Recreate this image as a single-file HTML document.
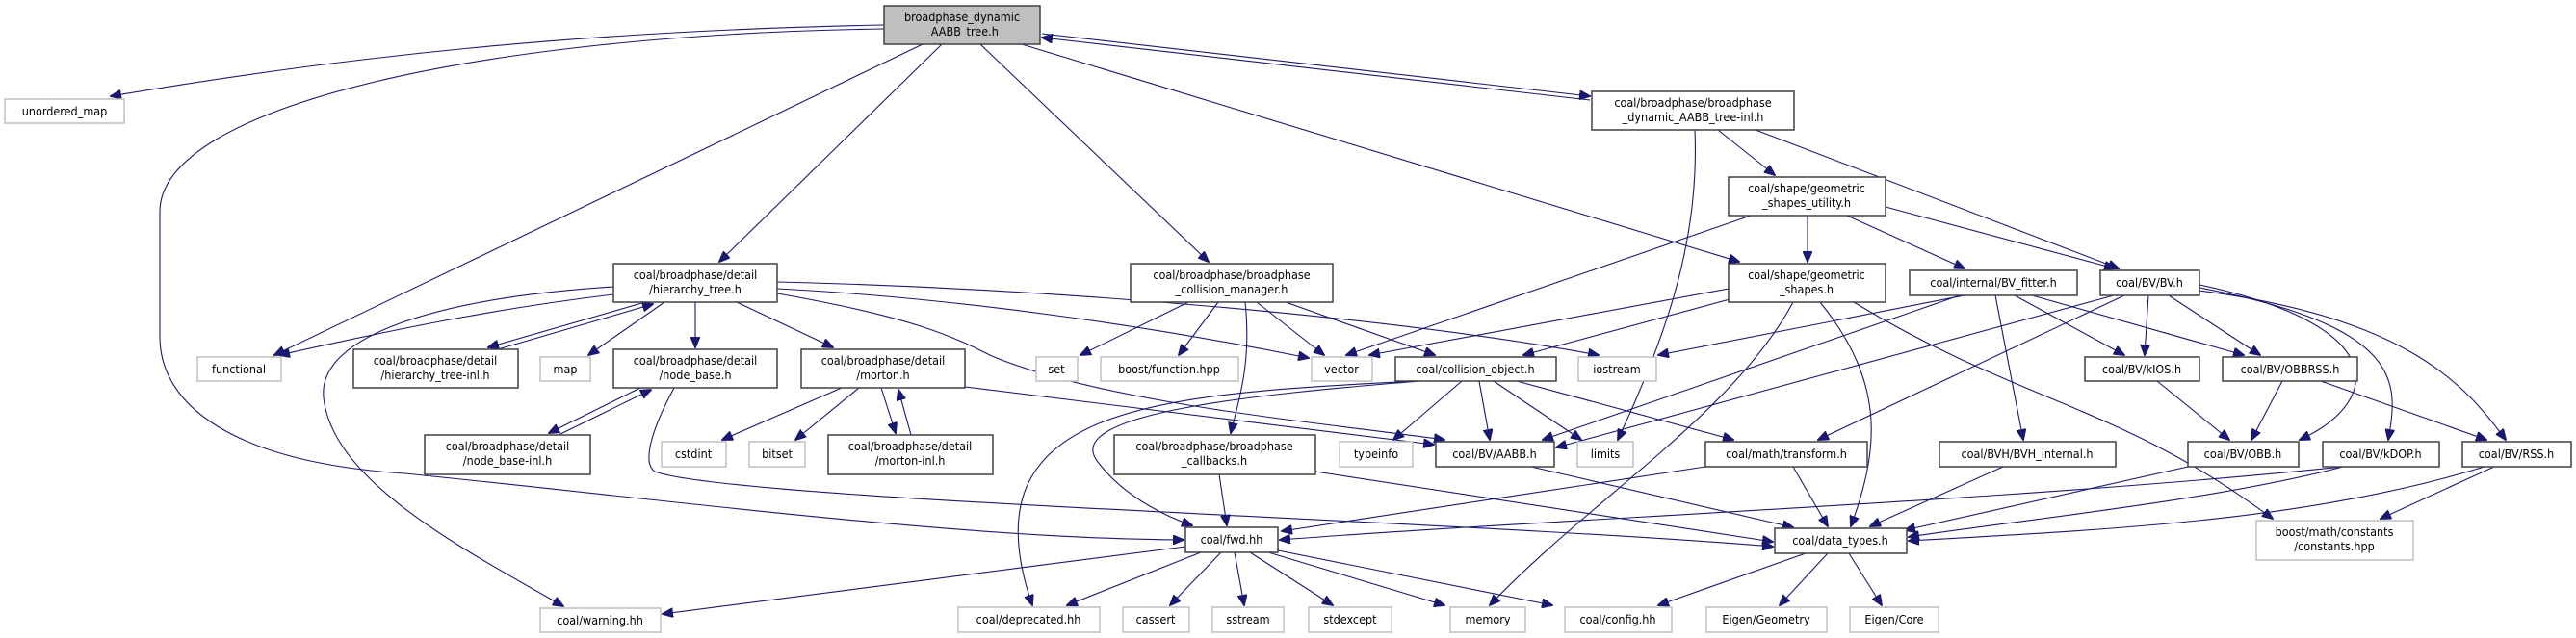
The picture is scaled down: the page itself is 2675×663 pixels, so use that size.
<!DOCTYPE html>
<html><head><meta charset="utf-8"><style>
html,body{margin:0;padding:0;background:#fff;}
svg{display:block;}
text{font-family:"DejaVu Sans Condensed","DejaVu Sans","Liberation Sans",sans-serif;font-size:12.5px;fill:#000;text-anchor:middle;}
.e{fill:none;stroke:#191970;stroke-width:1.1;marker-end:url(#a);}
.p{fill:#fff;stroke:#404040;stroke-width:1.5;}
.s{fill:#fff;stroke:#bfbfbf;stroke-width:1.5;}
.m{fill:#bfbfbf;stroke:#404040;stroke-width:1.5;}
</style></head><body>
<svg width="2675" height="663" viewBox="0 0 2675 663" xmlns="http://www.w3.org/2000/svg">
<defs><marker id="a" markerUnits="userSpaceOnUse" markerWidth="12" markerHeight="10" refX="11" refY="5" orient="auto"><path d="M0,0 L12,5 L0,10 z" fill="#191970" stroke="#191970"/></marker></defs>

<path class="e" d="M918,26 C600,32 350,60 115,100"/>
<path class="e" d="M918,30 C500,36 166,110 166,220 L166,350 C166,420 240,480 420,492 C700,520 1000,560 1229,561"/>
<path class="e" d="M958,46 L285,369"/>
<path class="e" d="M978,46 L747,272"/>
<path class="e" d="M1018,46 L1255,272"/>
<path class="e" d="M1061,46 L1806,272"/>
<path class="e" d="M1082,35 L1651,100"/>
<path class="e" d="M1651,104 L1082,39"/>
<path class="e" d="M1760,135 C1765,250 1730,350 1680,457"/>
<path class="e" d="M1784,135 L1843,182"/>
<path class="e" d="M1823,135 L2200,279"/>

<path class="e" d="M1818,224 L1398,369"/>
<path class="e" d="M1877,224 L1877,272"/>
<path class="e" d="M1918,224 L2040,279"/>
<path class="e" d="M1958,215 L2196,279"/>

<path class="e" d="M1795,300 L1422,369"/>
<path class="e" d="M1800,310 L1582,369"/>
<path class="e" d="M1862,314 C1800,430 1650,520 1547,629"/>
<path class="e" d="M1890,314 C1960,400 1950,470 1922,547"/>
<path class="e" d="M1925,314 C2100,420 2200,420 2360,539"/>

<path class="e" d="M2040,307 L1722,369"/>
<path class="e" d="M2035,307 L1602,457"/>
<path class="e" d="M2072,307 L2101,457"/>
<path class="e" d="M2092,307 L2206,369"/>
<path class="e" d="M2110,307 L2330,369"/>

<path class="e" d="M2195,307 L1616,465"/>
<path class="e" d="M2206,307 L1888,457"/>
<path class="e" d="M2231,307 L2227,369"/>
<path class="e" d="M2252,307 L2347,369"/>
<path class="e" d="M2284,296 C2490,340 2470,420 2388,457"/>
<path class="e" d="M2284,299 C2500,340 2490,400 2480,457"/>
<path class="e" d="M2284,302 C2500,330 2560,400 2602,457"/>

<path class="e" d="M2240,396 L2315,457"/>
<path class="e" d="M2370,396 L2338,457"/>
<path class="e" d="M2410,396 L2582,457"/>
<path class="e" d="M2272,485 L1978,551"/>
<path class="e" d="M2433,485 C2300,520 2100,540 1982,558"/>
<path class="e" d="M2433,485 C2100,520 1600,540 1329,561"/>
<path class="e" d="M2580,485 C2400,540 2200,550 1982,562"/>
<path class="e" d="M2590,485 L2472,539"/>
<path class="e" d="M1862,485 L1898,547"/>
<path class="e" d="M2080,485 L1942,547"/>
<path class="e" d="M1590,485 L1862,548"/>
<path class="e" d="M1771,485 L1331,552"/>

<path class="e" d="M1475,396 C1300,410 1100,430 1140,480 C1170,520 1220,540 1238,546"/>
<path class="e" d="M1470,396 C1200,410 1000,420 1072,629"/>
<path class="e" d="M1518,396 L1447,457"/>
<path class="e" d="M1536,396 L1547,457"/>
<path class="e" d="M1551,396 L1642,457"/>
<path class="e" d="M1575,396 L1800,457"/>

<path class="e" d="M1266,493 L1274,546"/>
<path class="e" d="M1366,490 L1841,563"/>

<path class="e" d="M1234,314 L1122,369"/>
<path class="e" d="M1265,314 L1224,369"/>
<path class="e" d="M1293,314 C1300,380 1285,420 1278,450"/>
<path class="e" d="M1305,314 L1375,369"/>
<path class="e" d="M1335,314 L1490,369"/>

<path class="e" d="M1231,568 L688,638"/>
<path class="e" d="M1247,574 L1108,629"/>
<path class="e" d="M1268,574 L1215,629"/>
<path class="e" d="M1282,574 L1292,629"/>
<path class="e" d="M1298,574 L1384,629"/>
<path class="e" d="M1317,574 L1500,629"/>
<path class="e" d="M1327,572 L1612,629"/>
<path class="e" d="M1875,575 L1722,629"/>
<path class="e" d="M1898,575 L1848,629"/>
<path class="e" d="M1920,575 L1954,629"/>

<path class="e" d="M637,306 C520,320 420,340 290,369"/>
<path class="e" d="M637,298 C450,310 330,350 336,413 C345,500 480,570 585,630"/>
<path class="e" d="M670,314 L507,361"/>
<path class="e" d="M517,363 L678,316"/>
<path class="e" d="M690,314 L611,369"/>
<path class="e" d="M722,314 L722,361"/>
<path class="e" d="M765,314 L865,361"/>
<path class="e" d="M807,300 C1000,310 1200,340 1359,372"/>
<path class="e" d="M807,293 C1100,300 1450,330 1660,369"/>
<path class="e" d="M807,305 C950,330 990,350 1030,370 C1150,420 1380,440 1500,457"/>

<path class="e" d="M665,403 L570,450"/>
<path class="e" d="M580,452 L676,405"/>
<path class="e" d="M700,403 C680,440 665,480 680,490 C760,520 1500,540 1841,568"/>
<path class="e" d="M874,403 L750,457"/>
<path class="e" d="M892,403 L826,457"/>
<path class="e" d="M915,403 L930,450"/>
<path class="e" d="M946,452 L933,405"/>
<path class="e" d="M1002,402 L1489,462"/>

<rect class="m" x="918" y="6" width="162" height="40"/><text x="999" y="22">broadphase_dynamic</text><text x="999" y="37">_AABB_tree.h</text>
<rect class="s" x="5" y="103" width="124" height="25"/><text x="67" y="120">unordered_map</text>
<rect class="p" x="1653" y="95" width="210" height="40"/><text x="1758" y="111">coal/broadphase/broadphase</text><text x="1758" y="126">_dynamic_AABB_tree-inl.h</text>
<rect class="p" x="637" y="274" width="170" height="40"/><text x="722" y="290">coal/broadphase/detail</text><text x="722" y="305">/hierarchy_tree.h</text>
<rect class="p" x="1174" y="274" width="210" height="40"/><text x="1279" y="290">coal/broadphase/broadphase</text><text x="1279" y="305">_collision_manager.h</text>
<rect class="p" x="1795" y="184" width="163" height="40"/><text x="1876" y="200">coal/shape/geometric</text><text x="1876" y="215">_shapes_utility.h</text>
<rect class="p" x="1795" y="274" width="163" height="40"/><text x="1876" y="290">coal/shape/geometric</text><text x="1876" y="305">_shapes.h</text>
<rect class="p" x="1983" y="281" width="174" height="26"/><text x="2070" y="298">coal/internal/BV_fitter.h</text>
<rect class="p" x="2181" y="281" width="103" height="26"/><text x="2232" y="298">coal/BV/BV.h</text>

<rect class="s" x="205" y="371" width="87" height="25"/><text x="248" y="388">functional</text>
<rect class="p" x="367" y="363" width="171" height="40"/><text x="452" y="379">coal/broadphase/detail</text><text x="452" y="394">/hierarchy_tree-inl.h</text>
<rect class="s" x="561" y="371" width="52" height="25"/><text x="587" y="388">map</text>
<rect class="p" x="637" y="363" width="170" height="40"/><text x="722" y="379">coal/broadphase/detail</text><text x="722" y="394">/node_base.h</text>
<rect class="p" x="832" y="363" width="170" height="40"/><text x="917" y="379">coal/broadphase/detail</text><text x="917" y="394">/morton.h</text>
<rect class="s" x="1076" y="371" width="43" height="25"/><text x="1097" y="388">set</text>
<rect class="s" x="1143" y="371" width="143" height="25"/><text x="1214" y="388">boost/function.hpp</text>
<rect class="s" x="1362" y="371" width="63" height="25"/><text x="1393" y="388">vector</text>
<rect class="p" x="1449" y="371" width="167" height="25"/><text x="1532" y="388">coal/collision_object.h</text>
<rect class="s" x="1639" y="371" width="81" height="25"/><text x="1679" y="388">iostream</text>
<rect class="p" x="2165" y="371" width="119" height="25"/><text x="2224" y="388">coal/BV/kIOS.h</text>
<rect class="p" x="2308" y="371" width="140" height="25"/><text x="2378" y="388">coal/BV/OBBRSS.h</text>

<rect class="p" x="441" y="452" width="172" height="41"/><text x="527" y="468">coal/broadphase/detail</text><text x="527" y="483">/node_base-inl.h</text>
<rect class="s" x="687" y="459" width="67" height="26"/><text x="720" y="476">cstdint</text>
<rect class="s" x="778" y="459" width="58" height="26"/><text x="807" y="476">bitset</text>
<rect class="p" x="860" y="452" width="171" height="41"/><text x="945" y="468">coal/broadphase/detail</text><text x="945" y="483">/morton-inl.h</text>
<rect class="p" x="1157" y="452" width="209" height="41"/><text x="1261" y="468">coal/broadphase/broadphase</text><text x="1261" y="483">_callbacks.h</text>
<rect class="s" x="1391" y="459" width="76" height="26"/><text x="1429" y="476">typeinfo</text>
<rect class="p" x="1491" y="459" width="123" height="26"/><text x="1552" y="476">coal/BV/AABB.h</text>
<rect class="s" x="1638" y="459" width="58" height="26"/><text x="1667" y="476">limits</text>
<rect class="p" x="1771" y="459" width="168" height="26"/><text x="1855" y="476">coal/math/transform.h</text>
<rect class="p" x="2014" y="459" width="183" height="26"/><text x="2105" y="476">coal/BVH/BVH_internal.h</text>
<rect class="p" x="2272" y="459" width="115" height="26"/><text x="2329" y="476">coal/BV/OBB.h</text>
<rect class="p" x="2412" y="459" width="121" height="26"/><text x="2472" y="476">coal/BV/kDOP.h</text>
<rect class="p" x="2557" y="459" width="113" height="26"/><text x="2613" y="476">coal/BV/RSS.h</text>

<rect class="p" x="1231" y="548" width="96" height="26"/><text x="1279" y="565">coal/fwd.hh</text>
<rect class="p" x="1843" y="549" width="137" height="26"/><text x="1911" y="566">coal/data_types.h</text>
<rect class="s" x="2343" y="541" width="163" height="41"/><text x="2424" y="557">boost/math/constants</text><text x="2424" y="572">/constants.hpp</text>

<rect class="s" x="561" y="632" width="125" height="25"/><text x="623" y="649">coal/warning.hh</text>
<rect class="s" x="995" y="631" width="147" height="26"/><text x="1068" y="648">coal/deprecated.hh</text>
<rect class="s" x="1166" y="631" width="69" height="26"/><text x="1200" y="648">cassert</text>
<rect class="s" x="1259" y="631" width="74" height="26"/><text x="1296" y="648">sstream</text>
<rect class="s" x="1359" y="631" width="86" height="26"/><text x="1402" y="648">stdexcept</text>
<rect class="s" x="1506" y="631" width="78" height="26"/><text x="1545" y="648">memory</text>
<rect class="s" x="1625" y="631" width="111" height="26"/><text x="1680" y="648">coal/config.hh</text>
<rect class="s" x="1772" y="631" width="125" height="26"/><text x="1834" y="648">Eigen/Geometry</text>
<rect class="s" x="1921" y="631" width="92" height="26"/><text x="1967" y="648">Eigen/Core</text>
</svg>
</body></html>
